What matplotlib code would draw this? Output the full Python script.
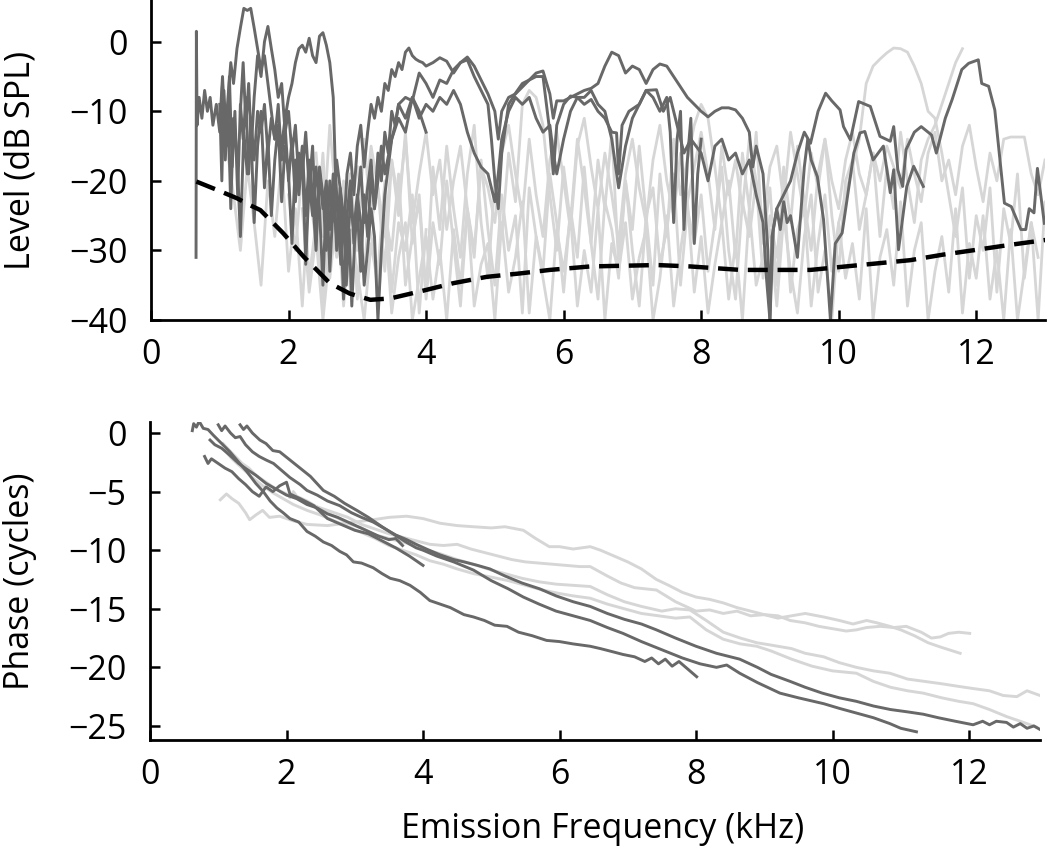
import numpy as np
import matplotlib
matplotlib.use("Agg")
import matplotlib.pyplot as plt

plt.rcParams['font.family'] = ['Open Sans', 'DejaVu Sans']

DARK = '#686868'
LIGHT = '#d6d6d6'

# ---------------- level (dB SPL) : dark traces ----------------
lvl_a_f = [0.655,0.66,0.67,0.70,0.74,0.78,0.82,0.86,0.90,0.95,1.00,1.04,1.08,1.12,1.16,1.20,1.25,1.30,1.35,1.40,
           1.45,1.50,1.55,1.60,1.65,1.70,1.75,1.80,1.85,1.90,1.95,2.00,2.05,2.10,2.15,2.20,2.25,2.30,2.35,2.40,
           2.45,2.50,2.55,2.60,2.65,2.70,2.75,2.80,2.85,2.90,2.95,3.00,3.05,3.10,3.15,3.20,3.25,3.30,3.35,3.40,
           3.50,3.60,3.70,3.80,3.90,4.00,4.10,4.20,4.30,4.40,4.50,4.60,4.70,4.80,4.90,5.00,5.05,5.10,5.20,5.30,
           5.40,5.50,5.60,5.70,5.80,5.85,5.90,6.00,6.10,6.20,6.30,6.40,6.50,6.60,6.70,6.80,6.90,7.00,7.10,7.20,
           7.30,7.40,7.50,7.55,7.60,7.65,7.70,7.75,7.80,7.85,7.90,7.95,8.00]
lvl_a = [-31,1.5,-12,-8,-11,-7,-10,-8,-12,-9,-13,-6,-17,-9,-24,-11,-16,-28,-13,-19,
         -12,-26,-15,-10,-21,-14,-25,-17,-12,-23,-15,-19,-29,-17,-22,-16,-32,-20,-25,-18,
         -24,-35,-22,-27,-19,-30,-23,-37,-25,-20,-29,-23,-18,-26,-21,-17,-24,-20,-15,-19,
         -14,-11,-13,-8,-11,-9,-10,-8,-9,-7,-9,-13,-16,-18,-19,-23,-19,-14,-10,-8,
         -9,-8,-11,-13,-12,-16,-19,-14,-10,-8,-8,-7,-9,-10,-14,-21,-15,-11,-9,-7,
         -8,-10,-8,-13,-26,-14,-10,-27,-17,-11,-29,-19,-14]

lvl_b_f = [1.00,1.03,1.06,1.10,1.14,1.18,1.22,1.26,1.30,1.34,1.38,1.42,1.46,1.50,1.55,1.60,1.65,1.70,1.75,1.80,
           1.85,1.90,1.95,2.00,2.05,2.10,2.15,2.20,2.25,2.30,2.35,2.40,2.45,2.50,2.55,2.60,2.65,2.68,2.72,2.76,
           2.80,2.84,2.88,2.92,2.96,3.00,3.05,3.10,3.15,3.20,3.25,3.30,3.35,3.40,3.45,3.50,3.55,3.60,3.70,3.80,
           3.90,4.00]
lvl_b = [-9,-20,-7,-15,-5,-18,-10,-22,-9,-14,-8,-19,-12,-17,-10,-13,-9,-16,-11,-14,
         -12,-15,-11,-8,-6,-3,-1,-0.5,-1.5,0.5,-2,-3,0.8,1.3,-0.5,-3,-8,-18,-26,-32,
         -24,-35,-27,-38,-29,-24,-33,-22,-28,-19,-24,-16,-20,-13,-16,-10,-12,-9,-11,-8,
         -10,-13]

lvl_c_f = [1.00,1.04,1.08,1.12,1.16,1.20,1.25,1.30,1.35,1.40,1.45,1.50,1.55,1.60,1.65,1.70,1.75,1.80,1.85,1.90,
           1.95,2.00,2.05,2.10,2.15,2.20,2.25,2.30,2.35,2.40,2.45,2.50,2.55,2.60,2.65,2.70,2.75,2.80,2.85,2.90,
           2.95,3.00,3.05,3.10,3.15,3.20,3.25,3.30,3.35,3.40,3.45,3.50,3.55,3.60,3.65,3.70,3.75,3.80,3.85,3.90,
           3.95,4.00,4.10,4.20,4.30,4.40,4.50,4.60,4.70,4.80,4.90,5.00,5.05,5.10,5.20,5.30,5.40,5.50,5.60,5.70,
           5.80,5.85,5.90,6.00,6.10,6.20,6.30,6.40,6.50,6.60,6.70,6.80,6.90,7.00,7.10,7.20,7.30,7.40,7.50,7.60,
           7.70,7.80,7.90,8.00,8.10,8.20,8.30,8.40,8.50,8.60,8.70,8.75,8.80,8.90,8.97,9.00,9.03,9.10,9.20,9.30,
           9.40,9.50,9.59,9.70,9.81,9.90,10.02,10.07,10.17,10.29,10.46,10.60,10.75,10.80,10.86,10.93,10.98,11.10,11.20,11.35,
           11.42,11.55,11.65,11.79,11.89,12.03,12.08,12.18,12.27,12.41,12.51,12.65,12.72,12.77,12.84,12.89,12.99]
lvl_c = [-12,-5,-14,-8,-3,-6,-1,2,4.8,4.5,4.8,2,-1,-4,-2,-6,-10,-14,-9,-17,
         -12,-20,-14,-23,-16,-19,-13,-21,-15,-27,-18,-22,-30,-20,-25,-17,-21,-28,-19,-16,
         -22,-15,-12,-18,-13,-9,-11,-8,-10,-6,-7,-4,-5,-3,-4,-1.5,-0.9,-2,-2.5,-2.8,
         -3,-3.5,-3,-2.3,-2.8,-4.5,-3,-2.2,-3.5,-5.5,-7.5,-10,-14,-10,-8,-7.5,-6.5,-5.5,-4.5,-4.2,
         -7.5,-11,-8.5,-8.5,-8,-7.5,-7,-6.7,-6,-3.5,-1.5,-2,-4.5,-3.5,-4,-6,-4,-3.2,-3.5,-5,
         -6.5,-8,-9,-10,-10.8,-10,-9.5,-9.5,-9.8,-11,-13,-18,-15,-19,-30,-40,-28,-24,-22,-20,
         -16,-13,-14.6,-10,-7.4,-8.5,-9.8,-12.2,-14.1,-8.6,-9.3,-13.6,-14.3,-12.2,-18.4,-20.8,-15.5,-13,-12.2,-13.4,
         -16,-11,-8.3,-4,-3.1,-2.6,-6,-6.4,-9.8,-23.2,-23.7,-27,-27,-24,-24.6,-18.2,-26.1]

lvl_d_f = [1.30,1.34,1.38,1.42,1.46,1.50,1.55,1.60,1.65,1.70,1.75,1.80,1.85,1.90,1.95,2.00,2.05,2.10,2.15,2.20,
           2.25,2.30,2.35,2.40,2.45,2.50,2.55,2.60,2.65,2.70,2.75,2.80,2.85,2.90,2.95,3.00,3.05,3.10,3.15,3.20,
           3.25,3.30,3.35,3.40,3.45,3.50,3.55,3.60,3.70,3.80,3.90,4.00,4.10,4.20,4.30,4.40,4.50,4.60,4.70,4.80,
           4.90,4.95,5.00,5.05,5.10,5.20,5.30,5.40,5.50,5.60,5.70,5.75,5.80,5.85,5.90,6.00,6.10,6.20,6.30,6.40,
           6.50,6.60,6.70,6.77,6.80,6.85,6.95,7.10,7.20,7.35,7.45,7.55,7.65,7.75,7.85,8.00,8.10,8.20,8.30,8.40,
           8.50,8.60,8.70,8.80,8.90,8.95,9.00,9.05,9.10,9.15,9.20,9.25,9.30,9.40,9.50,9.55,9.60,9.69,9.78,9.88,
           9.95,10.05,10.22,10.31,10.38,10.50,10.65,10.75,10.80,10.87,10.99,11.09,11.23]
lvl_d = [-10,-3,-12,-6,-15,-8,-2,-5,0,2.2,-1,-4,-8,-6,-13,-10,-16,-12,-20,-15,
         -25,-17,-22,-30,-19,-24,-20,-33,-23,-28,-21,-25,-31,-23,-27,-22,-26,-35,-30,-24,
         -28,-40,-30,-22,-18,-14,-12,-9,-8,-8.5,-4.5,-6,-8,-5.5,-6,-4,-3,-2.6,-5,-7,
         -9,-14,-20,-24,-16,-9,-7.4,-6,-5.5,-5,-5,-9,-13,-19,-12,-9,-7.8,-8,-9,-8.3,
         -10,-11,-13,-13.1,-19,-12,-10,-9,-7,-6.9,-10,-8,-12,-16,-14,-16,-20,-15,-14,-17,
         -16,-19,-17,-22,-26,-34,-40,-27,-24,-27,-23,-26,-25,-31,-18,-14,-17,-19.4,-25.6,-40,
         -29,-27.5,-16,-13.1,-12.9,-17,-15,-21.7,-18.4,-29.9,-20.8,-17.9,-20.8]

# ---------------- level : light traces (uniform 0.1 kHz sampling) ----------------
lvl_l1_start, lvl_l1 = 2.0, [
    -22,-30,-18,-34,-26,-38,-24,-31,-20,-36,-27,
    -33,-21,-38,-25,-30,-19,-35,-28,-23,-37,
    -26,-32,-20,-29,-38,-24,-31,-17,-27,-35,
    -22,-30,-25,-39,-21,-28,-33,-19,-26,-36,
    -24,-31,-18,-29,-37,-23,-27,-34,-20,-30,
    -38,-25,-21,-32,-27,-19,-35,-24,-29,-22,
    -33,-26,-18,-30,-37,-23,-28,-20,-34,-25,
    -31,-21,-36,-27,-24,-38,-29,-22,-33,-26,
    -22,-18,-14,-6,-3.5,-2.5,-1.6,-0.9,-1,-1.5,
    -3.5,-6,-10,-11,-16,-22,-28,-21,-34,-25,
    -30,-21,-36,-24,-29,-19,-34,-26,-40,-23,-31,-27,-25]
lvl_l2_start, lvl_l2 = 2.4, [
    -16,-28,-12,-24,-35,-19,-30,-14,-26,-21,
    -33,-17,-25,-13,-29,-22,-36,-18,-27,-15,
    -24,-31,-19,-12,-26,-34,-20,-28,-16,-23,
    -9,-7,-8,-12,-22,-30,-18,-26,-14,-21,
    -29,-17,-24,-13,-32,-20,-27,-15,-25,-35,
    -19,-28,-14,-22,-17,-12,-9,-11,-18,-26,
    -20,-31,-16,-24,-13,-29,-21,-35,-18,-26,
    -15,-23,-30,-19,-14,-25,-33,-20,-17,-27,
    -22,-16,-28,-18,-24,-13,-20,-26,-17,-14,
    -12,-9,-6,-3,-1]
lvl_l3_start, lvl_l3 = 3.0, [
    -18,-25,-15,-21,-28,-17,-23,-14,-26,-19,
    -13,-22,-17,-27,-20,-15,-24,-30,-18,-21,
    -26,-16,-12,-19,-25,-14,-22,-28,-17,-13,
    -20,-27,-15,-11,-18,-24,-16,-22,-29,-19,
    -14,-21,-26,-17,-12,-20,-25,-16,-23,-18,
    -13,-19,-27,-15,-22,-17,-24,-14,-20,-26,
    -18,-15,-23,-13,-19,-25,-16,-21,-14,-20,
    -24,-17,-13,-19,-22,-16,-20,-15,-18,-21,
    -14,-19,-23,-16,-13,-20,-17,-22,-15,-12,
    -18,-23,-16,-20,-14,-13.7,-13.7,-13.7,-19,-22,
    -17]
lvl_l4_start, lvl_l4 = 2.2, [
    -24,-36,-28,-40,-30,-22,-38,-27,-33,-40,
    -29,-35,-25,-39,-31,-26,-40,-34,-28,-37,
    -30,-40,-27,-35,-24,-38,-32,-29,-40,-26,
    -36,-31,-23,-39,-28,-34,-40,-27,-33,-25,
    -38,-30,-36,-24,-40,-29,-33,-26,-37,-31,
    -27,-40,-34,-25,-38,-30,-23,-36,-28,-39,
    -32,-26,-37,-29,-40,-24,-35,-31,-27,-38,
    -25,-33,-39,-28,-22,-36,-30,-40,-26,-34,
    -29,-37,-24,-40,-31,-27,-35,-23,-38,-30,
    -26,-40,-33,-28,-36,-24,-39,-29,-34,-25,
    -37,-30,-40,-27,-40,-33,-26,-31]
lvl_l5_start, lvl_l5 = 1.1, [
    -15,-22,-30,-18,-26,-35,-20,-28,-17,-33,-24,-38,-21,-29,-16,
    -34,-25,-31,-19,-37,-23,-28,-33,-20,-36,-26,-30,-22,-39,-27]

# noise floor (black dashed)
floor_f = [0.66,0.96,1.25,1.44,1.59,1.92,2.22,2.60,2.89,3.19,3.48,3.91,4.40,4.88,5.37,5.80,6.39,7.36,7.84,8.57,
           9.29,9.59,10.31,11.04,11.52,12.01,12.49,13.08]
floor_db = [-20.1,-21.3,-22.5,-23.5,-24.2,-27.5,-30.9,-34.7,-36.2,-37.1,-36.9,-35.9,-34.7,-33.8,-33.3,-32.8,-32.3,-32.1,-32.3,-32.8,
            -32.8,-32.8,-32.1,-31.4,-30.6,-29.9,-29.2,-28.4]

# ---------------- phase (cycles) ----------------
ph_d1 = [(0.62,0.2),(0.64,0.8),(0.68,0.5),(0.72,1.0),(0.78,0.4),(0.85,0.3),(0.93,-0.2),(1.05,-0.9),(1.17,-1.6),(1.3,-2.5),
         (1.42,-3.3),(1.55,-4.3),(1.66,-5.0),(1.76,-5.8),(1.86,-6.4),(1.95,-6.8),(2.05,-7.3),(2.18,-7.6),(2.3,-8.4),(2.42,-8.8),
         (2.54,-9.3),(2.66,-9.6),(2.78,-10.1),(2.88,-10.4),(2.98,-11.0),(3.1,-11.1),(3.27,-11.5),(3.4,-12.0),(3.52,-12.4),(3.66,-12.6),
         (3.81,-13.0),(3.96,-13.6),(4.1,-14.3),(4.25,-14.6),(4.4,-14.9),(4.6,-15.5),(4.74,-15.7),(4.9,-16.0),(5.05,-16.4),(5.23,-16.5),
         (5.4,-17.0),(5.6,-17.3),(5.81,-17.7),(6.0,-17.8),(6.2,-18.0),(6.45,-18.2),(6.6,-18.4),(6.8,-18.7),(6.93,-18.9),(7.1,-19.1),
         (7.25,-19.5),(7.35,-19.2),(7.45,-19.7),(7.55,-19.3),(7.65,-19.9),(7.75,-19.5),(7.85,-20.0),(8.01,-20.8)]
ph_d2 = [(0.8,-2.0),(0.85,-2.6),(0.9,-2.2),(1.0,-2.6),(1.1,-3.0),(1.2,-3.3),(1.3,-3.9),(1.4,-4.4),(1.5,-5.0),(1.6,-5.4),
         (1.7,-4.6),(1.8,-5.0),(1.9,-4.5),(2.0,-4.2),(2.05,-5.2),(2.2,-5.6),(2.4,-6.2),(2.6,-7.3),(2.8,-7.8),(3.0,-8.3),
         (3.2,-8.6),(3.4,-9.2),(3.6,-9.8),(3.8,-10.5),(4.0,-11.3)]
ph_d3 = [(1.0,0.7),(1.05,0.2),(1.1,0.6),(1.18,0.0),(1.25,-0.4),(1.32,-0.3),(1.4,-1.0),(1.5,-1.6),(1.6,-2.0),(1.7,-2.3),
         (1.81,-2.6),(1.93,-3.2),(2.05,-3.8),(2.2,-4.4),(2.3,-4.9),(2.45,-5.3),(2.6,-5.8),(2.78,-6.2),(2.95,-6.8),(3.1,-7.2),
         (3.27,-7.6),(3.45,-8.2),(3.6,-8.7),(3.76,-9.1),(3.9,-9.5),(4.05,-9.9),(4.25,-10.4),(4.45,-10.8),(4.6,-11.0),(4.8,-11.3),
         (4.98,-11.6),(5.2,-12.2),(5.45,-12.8),(5.71,-13.3),(5.95,-13.9),(6.2,-14.4),(6.45,-14.8),(6.7,-15.4),(6.95,-15.9),(7.2,-16.3),
         (7.42,-16.8),(7.7,-17.5),(8.0,-18.2),(8.3,-18.8),(8.64,-19.3),(8.9,-20.0),(9.1,-20.6),(9.38,-21.2),(9.6,-21.7),(9.85,-22.2),
         (10.1,-22.6),(10.35,-22.9),(10.6,-23.3),(10.85,-23.6),(11.1,-23.8),(11.33,-24.0),(11.55,-24.3),(11.8,-24.6),(12.06,-24.9),(12.2,-24.6),
         (12.3,-24.9),(12.4,-24.6),(12.55,-24.7),(12.65,-25.1),(12.75,-24.8),(12.85,-25.2),(12.95,-25.0),(13.04,-25.3)]
ph_d4 = [(1.32,0.7),(1.37,0.3),(1.42,0.6),(1.5,0.0),(1.61,-0.6),(1.7,-0.9),(1.8,-1.5),(1.9,-1.6),(2.05,-2.3),(2.2,-3.0),
         (2.35,-3.7),(2.54,-4.9),(2.7,-5.4),(2.85,-6.0),(3.03,-6.6),(3.2,-7.2),(3.4,-8.0),(3.56,-8.6),(3.75,-9.3),(3.9,-9.8),
         (4.0,-10.0),(4.2,-10.5),(4.45,-11.0),(4.74,-11.7),(5.0,-12.6),(5.25,-13.3),(5.47,-14.0),(5.7,-14.6),(5.95,-15.2),(6.2,-15.6),
         (6.45,-16.0),(6.7,-16.6),(6.93,-17.1),(7.2,-17.8),(7.5,-18.5),(7.8,-19.2),(8.06,-19.7),(8.3,-20.0),(8.45,-19.8),(8.64,-20.5),
         (8.9,-21.3),(9.23,-22.2),(9.5,-22.6),(9.87,-23.1),(10.1,-23.5),(10.35,-23.9),(10.6,-24.3),(10.84,-24.8),(11.0,-25.2),(11.23,-25.5)]
ph_d5 = [(0.88,-0.6),(0.95,-1.0),(1.05,-1.3),(1.17,-1.9),(1.3,-2.6),(1.42,-3.1),(1.55,-3.6),(1.7,-4.3),(1.85,-4.8),(2.0,-5.3),
         (2.15,-5.6),(2.3,-6.1),(2.45,-6.4),(2.6,-6.9),(2.75,-7.2),(2.9,-7.6),(3.05,-8.0),(3.2,-8.4),(3.35,-8.8),(3.5,-9.1),
         (3.6,-9.0),(3.7,-9.6)]

ph_la = [(1.03,-5.7),(1.12,-5.2),(1.2,-5.6),(1.3,-6.0),(1.4,-6.8),(1.46,-7.4),(1.55,-7.0),(1.65,-6.6),(1.75,-7.2),(1.9,-7.1),
         (2.0,-7.3),(2.1,-7.5),(2.3,-7.8),(2.6,-7.9),(3.0,-7.6),(3.27,-7.4),(3.5,-7.2),(3.76,-7.1),(4.0,-7.3),(4.25,-7.7),
         (4.5,-7.9),(4.74,-8.0),(5.0,-8.1),(5.2,-8.0),(5.47,-8.3),(5.65,-9.0),(5.85,-9.7),(6.0,-9.7),(6.2,-9.9),(6.45,-9.7),
         (6.6,-10.0),(6.8,-10.5),(7.0,-11.0),(7.2,-11.6),(7.42,-12.5),(7.6,-13.0),(7.8,-13.6),(8.0,-14.0),(8.2,-14.2),(8.4,-14.5),
         (8.6,-14.9),(8.8,-15.2),(9.0,-15.5),(9.2,-15.6),(9.38,-16.0),(9.6,-16.2),(9.8,-16.5),(10.0,-16.7),(10.2,-16.9),(10.35,-16.8),
         (10.5,-16.6),(10.7,-16.5),(10.9,-16.6),(11.08,-16.5),(11.3,-17.0),(11.45,-17.5),(11.58,-17.4),(11.7,-17.1),(11.85,-17.0),(12.01,-17.1)]
ph_lb = [(1.07,-0.9),(1.15,-1.4),(1.25,-2.0),(1.35,-2.6),(1.45,-3.0),(1.55,-3.6),(1.7,-4.2),(1.85,-4.8),(2.0,-5.2),(2.15,-5.6),
         (2.3,-6.0),(2.5,-6.4),(2.7,-6.8),(2.9,-7.2),(3.1,-7.8),(3.3,-8.2),(3.5,-8.6),(3.7,-8.9),(3.9,-9.2),(4.1,-9.5),
         (4.3,-9.6),(4.5,-9.5),(4.7,-9.9),(4.9,-10.2),(5.1,-10.5),(5.3,-10.8),(5.5,-11.0),(5.7,-11.1),(5.9,-11.2),(6.1,-11.3),
         (6.3,-11.4),(6.45,-11.4),(6.7,-12.2),(6.9,-12.8),(7.1,-13.2),(7.42,-13.4),(7.7,-14.4),(8.0,-15.2),(8.2,-15.1),(8.4,-15.4),
         (8.6,-15.2),(8.8,-15.6),(9.0,-15.5),(9.2,-15.8),(9.4,-15.6),(9.6,-15.4),(9.87,-15.7),(10.1,-16.0),(10.3,-16.3),(10.5,-16.0),
         (10.65,-16.2),(10.84,-16.5),(11.0,-16.8),(11.2,-17.3),(11.4,-17.9),(11.6,-18.3),(11.87,-18.8)]
ph_lc = [(2.05,-5.5),(2.1,-5.0),(2.15,-5.4),(2.3,-5.8),(2.5,-6.5),(2.7,-7.1),(2.9,-7.7),(3.1,-8.1),(3.3,-8.7),(3.5,-9.0),
         (3.76,-9.4),(4.0,-9.9),(4.25,-10.3),(4.5,-10.8),(4.74,-11.2),(5.0,-11.7),(5.2,-12.0),(5.45,-12.4),(5.7,-12.7),(5.95,-12.9),
         (6.2,-13.0),(6.45,-13.1),(6.7,-13.8),(6.95,-14.4),(7.2,-14.8),(7.5,-15.2),(7.7,-15.0),(7.91,-15.1),(8.15,-16.0),(8.4,-17.0),
         (8.65,-17.5),(8.89,-17.9),(9.1,-18.1),(9.4,-18.4),(9.6,-18.8),(9.87,-19.1),(10.1,-19.6),(10.35,-20.0),(10.6,-20.3),(10.84,-20.5),
         (11.1,-21.0),(11.35,-21.2),(11.6,-21.4),(11.82,-21.6),(12.05,-21.8),(12.3,-22.0),(12.5,-22.4),(12.7,-22.5),(12.85,-22.0),(13.04,-22.4)]
ph_ld = [(1.1,-1.5),(1.2,-2.2),(1.35,-3.0),(1.5,-3.8),(1.65,-4.5),(1.8,-5.1),(1.95,-5.6),(2.1,-6.1),(2.3,-6.6),(2.5,-7.0),
         (2.7,-7.5),(2.9,-8.0),(3.1,-8.5),(3.3,-9.0),(3.5,-9.6),(3.7,-10.0),(3.9,-10.4),(4.1,-10.9),(4.3,-11.2),(4.5,-11.6),
         (4.74,-12.0),(5.0,-12.3),(5.25,-12.6),(5.5,-13.0),(5.75,-13.4),(6.0,-13.7),(6.2,-13.9),(6.45,-14.1),(6.7,-14.6),(6.95,-15.0),
         (7.2,-15.4),(7.45,-15.6),(7.7,-15.8),(7.91,-15.7),(8.15,-16.8),(8.4,-17.6),(8.65,-18.0),(8.89,-18.2),(9.1,-18.6),(9.4,-19.3),
         (9.7,-19.9),(10.0,-20.3),(10.35,-20.5),(10.6,-21.2),(10.85,-21.7),(11.1,-22.0),(11.33,-22.2),(11.6,-22.6),(11.85,-22.9),(12.06,-23.1),
         (12.3,-23.6),(12.55,-24.2),(12.75,-24.6),(12.99,-25.1)]

lvl_ticks = [0, -10, -20, -30, -40]
ph_ticks = [0, -5, -10, -15, -20, -25]
freq_ticks = [0, 2, 4, 6, 8, 10, 12]

FS = 24.5


def grid(start, vals):
    # uniform 0.1 kHz sampling of the light traces
    return start + 0.1 * np.arange(len(vals))


def style(ax):
    for s in ['top', 'right']:
        ax.spines[s].set_visible(False)
    for s in ['left', 'bottom']:
        ax.spines[s].set_linewidth(2.0)
    ax.tick_params(direction='in', length=7, width=1.8, labelsize=FS)
    ax.tick_params(axis='y', pad=17)
    ax.tick_params(axis='x', pad=13)
    ax.set_xticks(freq_ticks)
    ax.set_xticklabels([str(t) for t in freq_ticks])


fig = plt.figure(figsize=(10.5, 8.6), dpi=100)
ax1 = fig.add_axes([151/1050, 1 - 320/860, 894/1050, 320/860])
ax2 = fig.add_axes([150/1050, 1 - 740/860, 890/1050, 318/860])

# ---- top: level ----
for start, vals in [(lvl_l4_start, lvl_l4), (lvl_l1_start, lvl_l1), (lvl_l5_start, lvl_l5),
                    (lvl_l2_start, lvl_l2), (lvl_l3_start, lvl_l3)]:
    ax1.plot(grid(start, vals), vals, color=LIGHT, lw=2.0)
for f, v in [(lvl_a_f, lvl_a), (lvl_b_f, lvl_b), (lvl_d_f, lvl_d), (lvl_c_f, lvl_c)]:
    ax1.plot(f, v, color=DARK, lw=2.1)
ax1.plot(floor_f, floor_db, color='black', lw=3.2, linestyle=(0, (4.5, 2.2)))

ax1.set_xlim(0, 13)
ax1.set_ylim(-40, 6)
ax1.set_yticks(lvl_ticks)
style(ax1)
ax1.set_ylabel('Level (dB SPL)', fontsize=FS, va='center')
ax1.yaxis.set_label_coords(-0.146, 0.5)

# ---- bottom: phase ----
for tr in [ph_ld, ph_lc, ph_lb, ph_la]:
    x, y = zip(*tr)
    ax2.plot(x, y, color=LIGHT, lw=2.1)
for tr in [ph_d5, ph_d2, ph_d4, ph_d3, ph_d1]:
    x, y = zip(*tr)
    ax2.plot(x, y, color=DARK, lw=2.1)

ax2.set_xlim(0, 13.04)
ax2.set_ylim(-26.2, 0.94)
ax2.set_yticks(ph_ticks)
style(ax2)
ax2.set_ylabel('Phase (cycles)', fontsize=FS, va='center')
ax2.yaxis.set_label_coords(-0.146, 0.5)
ax2.set_xlabel('Emission Frequency (kHz)', fontsize=FS, va='center')
ax2.xaxis.set_label_coords(0.509, -0.28)

fig.savefig('out.png', dpi=100)
